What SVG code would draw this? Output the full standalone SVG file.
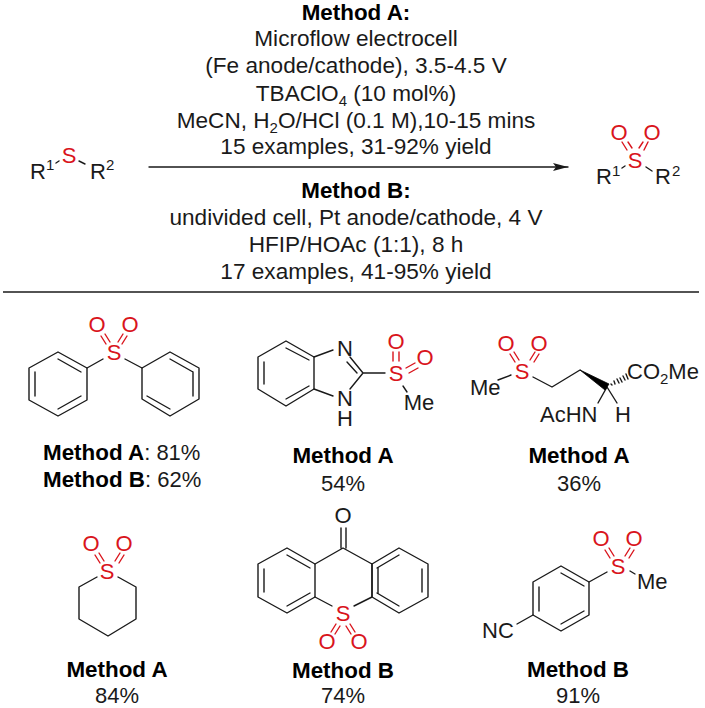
<svg xmlns="http://www.w3.org/2000/svg" width="705" height="708" viewBox="0 0 705 708">
<defs>
<style>
text{font-family:"Liberation Sans",Arial,sans-serif;font-size:22px;fill:#1a1a1a}
.c{text-anchor:middle}
.m{font-size:22.6px}
.b{font-weight:bold;fill:#000;font-size:22.4px}
.a{text-anchor:middle}
.r{fill:#d9141c}
text .s,.s{font-size:15px}
.l{fill:none;stroke:#1a1a1a;stroke-width:1.4;stroke-linejoin:round;stroke-linecap:round}
.d{fill:none;stroke:#d9141c;stroke-width:1.4;stroke-linecap:round}
</style>
<marker id="ah" markerUnits="userSpaceOnUse" markerWidth="16" markerHeight="10" refX="15" refY="5" orient="auto"><path d="M0 1L15 5L0 9L3 5Z" fill="#1a1a1a"/></marker>
</defs>
<rect width="705" height="708" fill="#fff"/>
<g id="conditions">
<text class="c b" x="356" y="20">Method A:</text>
<text class="c m" x="356" y="46">Microflow electrocell</text>
<text class="c m" x="356" y="73">(Fe anode/cathode), 3.5-4.5 V</text>
<text class="c m" x="356" y="101">TBAClO<tspan class="s" dy="5">4</tspan><tspan dy="-5"> (10 mol%)</tspan></text>
<text class="c m" x="356" y="128">MeCN, H<tspan class="s" dy="5">2</tspan><tspan dy="-5">O/HCl (0.1 M),10-15 mins</tspan></text>
<text class="c m" x="356" y="154">15 examples, 31-92% yield</text>
<text class="c b" x="356" y="198">Method B:</text>
<text class="c m" x="356" y="225">undivided cell, Pt anode/cathode, 4 V</text>
<text class="c m" x="356" y="252">HFIP/HOAc (1:1), 8 h</text>
<text class="c m" x="356" y="279">17 examples, 41-95% yield</text>
</g>
<g id="connectors">
<path class="l" d="M149 167H568" marker-end="url(#ah)"/>
<path d="M3 292H699" stroke="#1a1a1a" stroke-width="1.4"/>
</g>
<g id="substrate">
<text x="30" y="179">R</text><text class="s" x="46" y="170">1</text>
<text class="a r" x="69" y="163">S</text>
<text x="90" y="179">R</text><text class="s" x="106" y="170">2</text>
<path class="l" d="M56 163L59 161M79 161L85 164"/>
</g>
<g id="product">
<text x="596" y="184">R</text><text class="s" x="612" y="176">1</text>
<text class="a r" x="635" y="168">S</text>
<text x="655" y="184">R</text><text class="s" x="672" y="176">2</text>
<text class="a r" x="619" y="140">O</text><text class="a r" x="652" y="140">O</text>
<path class="l" d="M622 168L625 166M646 167L652 171"/>
<path class="d" d="M622 142L627 150M628 142L632 148M648 142L644 150M643 142L639 148"/>
</g>
<g id="compound-1">
<path class="l" d="M58 352L87 368V400L58 416L29 400V368ZM35 372V396M58 409L81 396M58 359L81 372"/>
<path class="l" d="M170 352L199 368V399L170 416L142 399V368ZM193 372V396M170 409L147 396M170 359L193 372"/>
<path class="l" d="M87 368L103 359M142 368L125 359"/>
<text class="a r" x="114" y="360">S</text>
<text class="a r" x="97" y="332">O</text><text class="a r" x="130" y="332">O</text>
<path class="d" d="M101 336L106 344M105 334L110 342M123 334L118 342M127 336L122 344"/>
<text x="43" y="460"><tspan class="b">Method A</tspan>: 81%</text>
<text x="43" y="487"><tspan class="b">Method B</tspan>: 62%</text>
</g>
<g id="compound-2">
<path class="l" d="M286 341L314 357V389L286 406L258 389V357ZM264 362V384M286 399L309 386M286 348L309 360"/>
<path class="l" d="M314 357L333 350M314 389L333 396M363 373L350 357M357 373L347 362M363 373L350 389M363 373H385M403 386L407 392"/>
<text class="a" x="345" y="356">N</text>
<text class="a" x="345" y="406">N</text>
<text class="a" x="345" y="426">H</text>
<text class="a r" x="396" y="381">S</text>
<text class="a r" x="396" y="349">O</text>
<text class="a r" x="425" y="365">O</text>
<text class="a" x="419" y="410">Me</text>
<path class="d" d="M393 352V361M399 352V361M406 368L415 363M409 373L418 368"/>
<text class="c b" x="343" y="463">Method A</text>
<text class="c" x="343" y="491">54%</text>
</g>
<g id="compound-3">
<path class="l" d="M498 380L511 375M533 377L552 387L580 370M607 387L598 403M607 387L617 403"/>
<path d="M580 370L609 384L605 390Z" fill="#000" stroke="#000" stroke-width="0.8"/>
<path class="l" d="M611 384L612 385M614 381L615 384M617 379L619 383M620 378L622 382M623 376L625 380M626 374L628 379"/>
<text class="a r" x="522" y="379">S</text>
<text class="a r" x="506" y="351">O</text><text class="a r" x="539" y="351">O</text>
<path class="d" d="M510 354L515 362M514 352L519 360M535 352L530 360M539 354L534 362"/>
<text x="470" y="395">Me</text>
<text x="627" y="379">CO<tspan class="s" dy="5">2</tspan><tspan dy="-5">Me</tspan></text>
<text x="540" y="422">AcHN</text>
<text class="a" x="623" y="422">H</text>
<text class="c b" x="579" y="463">Method A</text>
<text class="c" x="579" y="491">36%</text>
</g>
<g id="compound-4">
<path class="l" d="M97 577L79 587V619L108 636L136 619V587L118 577"/>
<text class="a r" x="107" y="579">S</text>
<text class="a r" x="91" y="551">O</text><text class="a r" x="124" y="551">O</text>
<path class="d" d="M95 555L100 563M99 553L104 561M120 553L115 561M124 555L119 563"/>
<text class="c b" x="117" y="677">Method A</text>
<text class="c" x="117" y="703">84%</text>
</g>
<g id="compound-5">
<path class="l" d="M315 564L287 548L258 564V597L287 613L315 597ZM264 569V592M287 555L310 568M287 606L310 593"/>
<path class="l" d="M372 564L399 548L428 564V597L399 613L372 597ZM422 569V592M399 555L377 568M399 606L377 593"/>
<path class="l" d="M372 564V597M378 568V593M315 564L343 548L372 564M341 548V528M346 548V528M315 597L332 606M372 597L354 606"/>
<text class="a" x="343" y="523">O</text>
<text class="a r" x="343" y="621">S</text>
<text class="a r" x="327" y="649">O</text><text class="a r" x="359" y="649">O</text>
<path class="d" d="M331 632L336 624M335 634L340 626M355 632L350 624M351 634L346 626"/>
<text class="c b" x="343" y="678">Method B</text>
<text class="c" x="343" y="703">74%</text>
</g>
<g id="compound-6">
<path class="l" d="M561 566L589 582V615L561 631L533 615V582ZM539 587V611M561 573L584 586M561 624L584 611"/>
<path class="l" d="M533 615L517 624M589 582L607 572M630 571L635 574"/>
<text class="a r" x="618" y="574">S</text>
<text class="a r" x="601" y="546">O</text><text class="a r" x="634" y="546">O</text>
<path class="d" d="M605 550L610 558M609 548L614 556M630 548L625 556M634 550L629 558"/>
<text x="637" y="589">Me</text>
<text x="482" y="638">NC</text>
<text class="c b" x="578" y="677">Method B</text>
<text class="c" x="578" y="703">91%</text>
</g>
</svg>
